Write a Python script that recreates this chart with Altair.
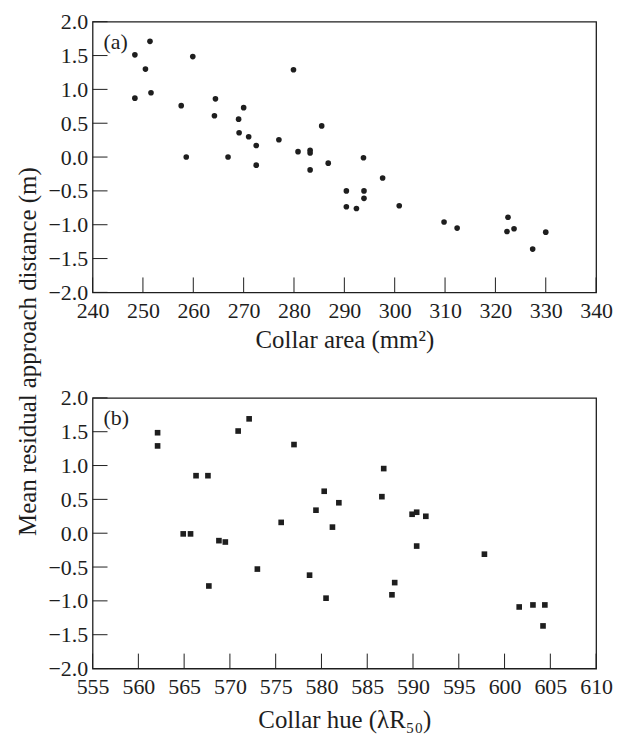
import altair as alt
import pandas as pd

# Panel (a): collar area vs residual approach distance
area_x = [248.4, 251.4, 250.5, 248.4, 251.6, 259.9, 257.6, 258.6, 264.4, 264.2,
          266.9, 270.0, 269.0, 269.1, 271.0, 272.5, 272.5, 277.0, 279.9, 280.8,
          283.2, 283.2, 283.2, 285.5, 286.8, 293.8, 297.6, 290.4, 293.9, 293.9,
          290.4, 292.4, 300.9, 309.8, 312.4, 322.5, 322.3, 323.7, 330.0, 327.4]
area_y = [1.51, 1.71, 1.30, 0.87, 0.95, 1.485, 0.76, 0.00, 0.86, 0.61,
          0.00, 0.73, 0.56, 0.36, 0.30, 0.17, -0.12, 0.255, 1.29, 0.08,
          0.10, 0.06, -0.19, 0.46, -0.09, -0.01, -0.31, -0.50, -0.50, -0.61,
          -0.735, -0.76, -0.72, -0.96, -1.05, -0.89, -1.10, -1.06, -1.11, -1.36]

# Panel (b): collar hue vs residual approach distance
hue_x = [562.1, 562.1, 566.3, 567.6, 564.9, 565.7, 568.8, 569.5, 570.9, 572.1,
         577.0, 575.6, 579.4, 567.7, 573.0, 578.7, 586.8, 586.6, 580.3, 581.9,
         581.2, 589.9, 590.4, 591.4, 590.4, 597.8, 580.5, 588.0, 587.7, 601.6,
         603.1, 604.4, 604.2]
hue_y = [1.485, 1.29, 0.85, 0.85, -0.01, -0.01, -0.11, -0.13, 1.51, 1.69,
         1.31, 0.16, 0.34, -0.78, -0.53, -0.62, 0.955, 0.54, 0.62, 0.45,
         0.09, 0.28, 0.31, 0.25, -0.19, -0.31, -0.96, -0.73, -0.91, -1.09,
         -1.06, -1.06, -1.37]

y_ticks = [-2.0, -1.5, -1.0, -0.5, 0.0, 0.5, 1.0, 1.5, 2.0]
area_ticks = [240, 250, 260, 270, 280, 290, 300, 310, 320, 330, 340]
hue_ticks = [555, 560, 565, 570, 575, 580, 585, 590, 595, 600, 605, 610]

FONT = "Liberation Serif"
LFS = 22   # tick labels
TFS = 25   # axis titles
INK = "#1e1e1e"
W, H = 506, 272
TICK = 15


def panel(xs, ys, xticks, xtitle, shape, tag, title_pad):
    df = pd.DataFrame({"x": xs, "y": ys})
    xs_scale = alt.Scale(domain=[xticks[0], xticks[-1]], nice=False, zero=False)
    ys_scale = alt.Scale(domain=[-2, 2], nice=False, zero=False)
    x_axis = alt.Axis(values=xticks, title=xtitle, grid=False, ticks=False, domain=False,
                      labelFont=FONT, labelFontSize=LFS, labelColor=INK, labelPadding=8,
                      labelFlush=False, labelOverlap=False,
                      titleFont=FONT, titleFontSize=TFS, titleFontWeight="normal",
                      titleColor=INK, titlePadding=title_pad)
    y_axis = alt.Axis(values=y_ticks, format=".1f", title=None, grid=False, ticks=False,
                      domain=False, labelFont=FONT, labelFontSize=LFS, labelColor=INK,
                      labelPadding=5, labelFlush=False, labelOverlap=False)

    pts = alt.Chart(df).mark_point(shape=shape, filled=True, size=32, color=INK, opacity=1).encode(
        x=alt.X("x:Q", scale=xs_scale, axis=x_axis),
        y=alt.Y("y:Q", scale=ys_scale, axis=y_axis),
    )

    ytk = alt.Chart(pd.DataFrame({"y": y_ticks})).mark_rule(color=INK, strokeWidth=1).encode(
        y=alt.Y("y:Q", scale=ys_scale, axis=y_axis),
        x=alt.value(0), x2=alt.value(TICK),
    )
    xtk = alt.Chart(pd.DataFrame({"x": xticks})).mark_rule(color=INK, strokeWidth=1).encode(
        x=alt.X("x:Q", scale=xs_scale, axis=x_axis),
        y=alt.value(H), y2=alt.value(H - TICK),
    )
    lab = alt.Chart(pd.DataFrame({"t": [tag]})).mark_text(
        align="left", baseline="middle", font=FONT, fontSize=LFS, color=INK
    ).encode(text="t:N", x=alt.value(11), y=alt.value(20))

    return alt.layer(pts, ytk, xtk, lab).properties(width=W, height=H)


a = panel(area_x, area_y, area_ticks, "Collar area (mm²)", "circle", "(a)", 6)
b = panel(hue_x, hue_y, hue_ticks, "Collar hue (λR₅₀)", "square", "(b)", 10)

chart = alt.vconcat(a, b, spacing=33).properties(
    padding={"left": 8, "top": 0, "right": 5, "bottom": 0},
    title=alt.TitleParams("Mean residual approach distance (m)", orient="left", anchor="middle",
                          font=FONT, fontSize=TFS, fontWeight="normal", color=INK, offset=6,
                          dx=20)
).configure_view(stroke=INK, strokeWidth=1.3)

chart.save("out.html", embed_options={"renderer": "svg", "actions": False})
